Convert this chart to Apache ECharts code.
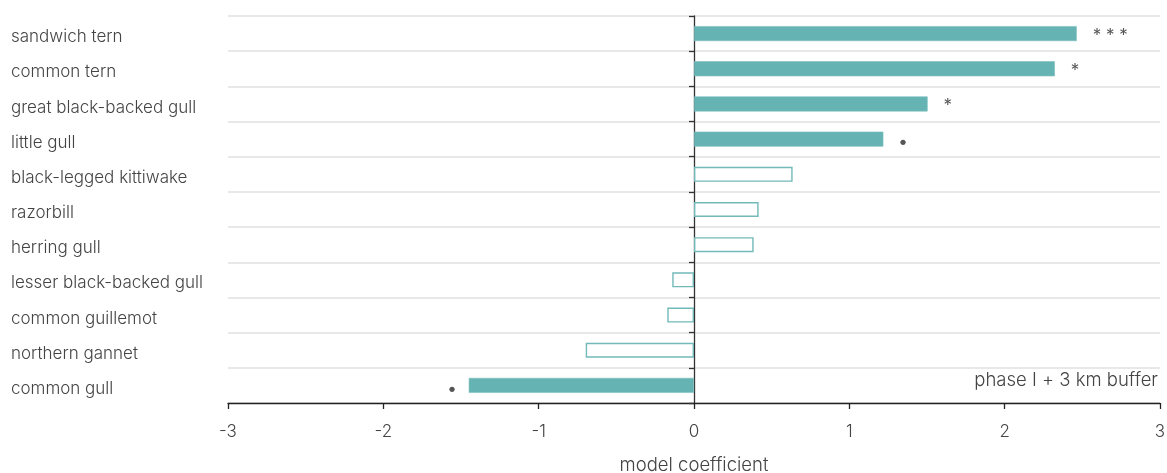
<!DOCTYPE html>
<html>
<head>
<meta charset="utf-8">
<script src="https://cdn.jsdelivr.net/npm/echarts@6/dist/echarts.min.js"></script>
<style>
html,body{margin:0;padding:0;background:#fff;}
#chart{width:1167px;height:473px;}
</style>
</head>
<body>
<div id="chart"></div>
<script>
var categories = ['sandwich tern','common tern','great black-backed gull','little gull','black-legged kittiwake','razorbill','herring gull','lesser black-backed gull','common guillemot','northern gannet','common gull'];
var coefficients = [2.464, 2.323, 1.504, 1.219, 0.635, 0.416, 0.384, -0.14, -0.172, -0.697, -1.45];
var significance = ['* * *', '*', '*', '•', '', '', '', '', '', '', '•'];
var xTicks = [-3, -2, -1, 0, 1, 2, 3];
var panelLabel = 'phase I + 3 km buffer';
var axisTitle = 'model coefficient';

var FONT = 'Inter';
var TEXT = '#444';
var TEAL = '#66b3b3';
var FS = 17;

var barData = coefficients.map(function (v, i) {
  var sig = significance[i];
  var filled = sig !== '';
  var isDot = sig === '•';
  return {
    value: v,
    itemStyle: filled
      ? { color: TEAL, borderColor: '#7cc0c0', borderWidth: 0.6 }
      : { color: '#ffffff', borderColor: '#72b9b9', borderWidth: 1.4 },
    label: {
      show: filled,
      formatter: sig,
      position: v >= 0 ? 'right' : 'left',
      distance: isDot ? (v >= 0 ? 15 : 12) : 16,
      offset: isDot ? [0, 3] : [0, 2],
      color: '#555',
      fontFamily: FONT,
      fontSize: 17
    }
  };
});

var chart = echarts.init(document.getElementById('chart'), null, { renderer: 'canvas' });
chart.setOption({
  animation: false,
  backgroundColor: '#fff',
  textStyle: { fontFamily: FONT },
  grid: { left: 228, right: 7, top: 16, bottom: 70, containLabel: false, outerBoundsMode: 'none' },
  xAxis: {
    type: 'value',
    min: xTicks[0],
    max: xTicks[xTicks.length - 1],
    interval: 1,
    axisLine: { show: true, onZero: false, lineStyle: { color: '#222', width: 1.3 } },
    axisTick: { show: true, inside: false, length: 6, lineStyle: { color: '#222', width: 1.3 } },
    axisLabel: { color: TEXT, fontSize: FS, fontFamily: FONT, fontWeight: 300, margin: 20 },
    splitLine: { show: false },
    name: axisTitle,
    nameLocation: 'middle',
    nameGap: 53,
    nameTextStyle: { color: TEXT, fontSize: 18.5, fontFamily: FONT, fontWeight: 300 }
  },
  yAxis: {
    type: 'category',
    inverse: true,
    data: categories,
    boundaryGap: true,
    axisLine: { show: true, onZero: true, lineStyle: { color: '#333', width: 1.3 } },
    axisTick: { show: true, inside: false, length: 5, lineStyle: { color: '#333', width: 1.3 } },
    axisLabel: {
      align: 'left',
      margin: 217,
      formatter: function (v) { return '{c|' + v + '}'; },
      rich: { c: { color: TEXT, fontSize: FS, fontFamily: FONT, fontWeight: 300, padding: [7, 0, 0, 0] } }
    },
    splitLine: { show: true, interval: 0, lineStyle: { color: '#e0e0e0', width: 1.5 } }
  },
  series: [{
    type: 'bar',
    data: barData,
    barWidth: 15,
    z: 3
  }],
  graphic: [{
    type: 'text',
    right: 9,
    top: 371,
    style: { text: panelLabel, fill: TEXT, font: '300 18.5px ' + FONT }
  }]
});
</script>
</body>
</html>
